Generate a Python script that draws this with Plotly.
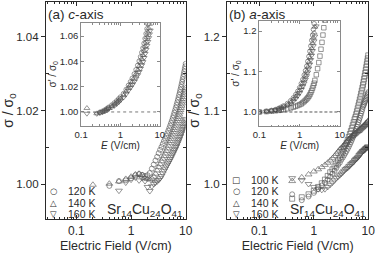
import plotly.graph_objects as go

# ---------------- data ----------------
# (a) c-axis main panel, E in V/cm
E_c = [0.2,0.4,0.6,0.8,1.0,1.2,1.4,1.6,1.8,2.0,2.2,2.4,2.6,2.8,3.0,3.2,3.4,3.6,3.8,4.0,
       4.2,4.4,4.6,4.8,5.0,5.2,5.4,5.6,5.8,6.0,6.2,6.4,6.6,6.8,7.0,7.2,7.4,7.6,7.8,8.0,
       8.2,8.4,8.6,8.8,9.0,9.2,9.4,9.6,9.8,10.0]
c120 = [None,0.9995,1.0008,1.0010,1.0016,1.0024,1.0027,1.0025,1.0022,1.0024,
        1.0030,1.0042,1.0053,1.0064,1.0074,1.0084,1.0093,1.0101,1.0109,1.0117,
        1.0124,1.0131,1.0138,1.0145,1.0152,1.0159,1.0166,1.0173,1.0180,1.0187,
        1.0194,1.0201,1.0208,1.0215,1.0222,1.0229,1.0236,1.0243,1.0250,1.0257,
        1.0264,1.0271,1.0278,1.0285,1.0292,1.0299,1.0306,1.0313,1.0320,1.0327]
c140 = [0.9998,1.0001,1.0007,1.0014,1.0020,1.0026,1.0028,1.0024,1.0018,1.0014,
        1.0012,1.0015,1.0020,1.0028,1.0037,1.0046,1.0054,1.0062,1.0069,1.0076,
        1.0083,1.0090,1.0097,1.0104,1.0111,1.0117,1.0123,1.0129,1.0135,1.0141,
        1.0147,1.0153,1.0159,1.0165,1.0171,1.0177,1.0183,1.0189,1.0195,1.0201,
        1.0207,1.0213,1.0219,1.0225,1.0231,1.0237,1.0243,1.0249,1.0255,1.0261]
c160 = [None,None,0.9982,1.0004,1.0012,1.0018,1.0010,1.0016,1.0008,0.9992,
        0.9981,0.9994,1.0000,1.0004,1.0007,1.0011,1.0016,1.0022,1.0029,1.0036,
        1.0042,1.0048,1.0053,1.0058,1.0063,1.0068,1.0073,1.0078,1.0083,1.0087,
        1.0092,1.0096,1.0101,1.0105,1.0110,1.0114,1.0119,1.0123,1.0128,1.0132,
        1.0137,1.0141,1.0146,1.0150,1.0155,1.0159,1.0164,1.0168,1.0173,1.0177]

# (b) a-axis main panel
E_a = [0.4,0.6,0.8,1.0,1.2,1.4,1.6,1.8,2.0,2.2,2.4,2.6,2.8,3.0,3.2,3.4,3.6,3.8,4.0,4.2,
       4.4,4.6,4.8,5.0,5.2,5.4,5.6,5.8,6.0,6.2,6.4,6.6,6.8,7.0,7.2,7.4,7.6,7.8,8.0,8.2,
       8.4,8.6,8.8,9.0,9.2,9.4,9.6,9.8,10.0]
a100 = [0.980,0.982,0.986,0.991,0.996,1.001,1.006,1.011,1.016,1.020,
        1.024,1.028,1.032,1.036,1.040,1.044,1.048,1.052,1.056,1.060,
        1.064,1.068,1.072,1.076,1.080,1.084,1.088,1.091,1.095,1.099,
        1.103,1.107,1.111,1.115,1.119,1.123,1.127,1.131,1.135,1.139,
        1.143,1.147,1.151,1.155,1.159,1.163,1.167,1.171,1.175]
a120 = [0.986,0.978,0.983,0.988,0.993,0.998,1.002,1.006,1.010,1.014,
        1.018,1.022,1.026,1.029,1.033,1.036,1.039,1.042,1.045,1.048,
        1.051,1.054,1.057,1.060,1.063,1.066,1.069,1.072,1.075,1.078,
        1.081,1.084,1.087,1.090,1.093,1.096,1.099,1.102,1.105,1.107,
        1.109,1.111,1.113,1.115,1.117,1.119,1.121,1.123,1.125]
a140 = [1.004,1.009,1.013,1.017,1.020,1.023,1.026,1.029,1.032,1.035,
        1.038,1.041,1.044,1.047,1.049,1.051,1.053,1.055,1.057,1.059,
        1.061,1.062,1.064,1.065,1.066,1.067,1.068,1.069,1.070,1.071,
        1.072,1.072,1.073,1.074,1.075,1.076,1.077,1.077,1.078,1.079,
        1.080,1.080,1.081,1.082,1.083,1.083,1.084,1.085,1.086]
a160 = [1.008,1.005,1.000,0.996,0.993,0.992,0.993,0.996,0.999,1.002,
        1.005,1.008,1.010,1.012,1.014,1.016,1.018,1.020,1.021,1.022,
        1.024,1.025,1.027,1.028,1.029,1.030,1.032,1.033,1.034,1.035,
        1.036,1.037,1.039,1.040,1.041,1.042,1.043,1.044,1.045,1.045,
        1.046,1.047,1.047,1.048,1.049,1.049,1.050,1.051,1.051]

# inset (a): sigma'/sigma0
E_ci = [0.14,0.25,0.3,0.35,0.4,0.45,0.5,0.6,0.7,0.8,0.9,1.0,1.2,1.4,1.6,1.8,2.0,2.25,2.5,2.75,
        3.0,3.25,3.5,3.75,4.0,4.25,4.5,4.75,5.0,5.25,5.5,5.75]
ci120 = [None,None,0.9998,1.0006,1.0015,1.0026,1.0037,1.0054,1.0071,1.0087,1.0103,1.0118,
         1.0145,1.0178,1.0210,1.0238,1.0266,1.0300,1.0334,1.0368,1.0402,1.0436,1.0470,
         1.0505,1.0542,1.0580,1.0618,1.0656,1.0695,1.0735,1.0775,1.0815]
ci140 = [1.003,0.9988,0.9995,1.0002,1.001,1.002,1.003,1.0045,1.006,1.0075,1.009,1.0105,
         1.013,1.016,1.019,1.0215,1.024,1.027,1.030,1.033,1.036,1.039,1.042,1.045,
         1.0485,1.052,1.0555,1.059,1.0625,1.066,1.0695,1.073]
ci160 = [0.9987,0.9986,0.9992,0.9998,1.0005,1.0014,1.0023,1.0036,1.0049,1.0063,1.0077,1.0092,
         1.0115,1.0142,1.0170,1.0192,1.0214,1.0240,1.0266,1.0292,1.0318,1.0344,1.0370,
         1.0395,1.0428,1.0460,1.0492,1.0524,1.0555,1.0585,1.0615,1.0645]

# inset (b)
E_ai = [0.1,0.15,0.2,0.25,0.3,0.35,0.4,0.5,0.6,0.7,0.8,0.9,1.0,1.1,1.2,1.3,1.4,1.5,1.6,1.7,
        1.8,1.9,2.0,2.1,2.2,2.3,2.4,2.6,2.8,3.0,3.2,3.4,3.6,3.8,4.0,4.2,4.4]
ai100 = [1.000,1.001,1.002,1.003,1.004,1.005,1.006,1.008,1.010,1.012,1.014,1.016,1.018,1.020,
         1.023,1.026,1.029,1.032,1.035,1.039,1.043,1.048,1.053,1.059,1.065,1.071,1.078,1.092,
         1.107,1.122,1.138,1.155,1.172,1.190,1.208,1.227,1.246]
ai120 = [1.000,1.002,1.004,1.006,1.009,1.012,1.015,1.021,1.028,1.035,1.043,1.051,1.060,1.070,
         1.080,1.091,1.102,1.113,1.125,1.137,1.150,1.163,1.177,1.190,1.204,1.218,1.232]
ai140 = [1.000,1.001,1.003,1.005,1.008,1.010,1.013,1.018,1.024,1.031,1.038,1.045,1.053,1.062,
         1.071,1.080,1.090,1.100,1.111,1.122,1.133,1.145,1.157,1.170,1.183,1.196,1.210,1.238]
ai160 = [1.000,1.001,1.002,1.004,1.006,1.009,1.011,1.016,1.021,1.027,1.033,1.040,1.047,1.055,
         1.063,1.071,1.080,1.089,1.098,1.108,1.118,1.129,1.140,1.151,1.163,1.175,1.187,1.212,
         1.238]

temps_c = ["120 K", "140 K", "160 K"]
temps_a = ["100 K", "120 K", "140 K", "160 K"]
x_ticks = [0.1, 1, 10]
x_ticktext = ["0.1", "1", "10"]
x_minor = [0.03,0.04,0.05,0.06,0.07,0.08,0.09,0.2,0.3,0.4,0.5,0.6,0.7,0.8,0.9,
           2,3,4,5,6,7,8,9]

# ---------------- figure ----------------
INK = "#2a2a2a"
MK = "#505050"
FONT = "Liberation Sans, Arial, Helvetica, sans-serif"
W, H = 382, 253

def px_x(p):
    return p / W

def px_y(p):
    return 1 - p / H

fig = go.Figure()

def add(x, y, sym, xa, ya, size):
    n = len(y)
    fig.add_trace(go.Scatter(
        x=x[:n], y=y, mode="markers", xaxis=xa, yaxis=ya,
        marker=dict(symbol=sym, size=size, color=MK, line=dict(width=0.6, color=MK)),
        showlegend=False, hoverinfo="skip"))

# main (a)
add(E_c, c160, "triangle-down-open", "x", "y", 6)
add(E_c, c140, "triangle-up-open", "x", "y", 6)
add(E_c, c120, "circle-open", "x", "y", 5)
# main (b)
add(E_a, a160, "triangle-down-open", "x2", "y2", 6)
add(E_a, a140, "triangle-up-open", "x2", "y2", 6)
add(E_a, a120, "circle-open", "x2", "y2", 5)
add(E_a, a100, "square-open", "x2", "y2", 5)
# insets
add(E_ci, ci160, "triangle-down-open", "x3", "y3", 5.2)
add(E_ci, ci140, "triangle-up-open", "x3", "y3", 5.2)
add(E_ci, ci120, "circle-open", "x3", "y3", 4.5)
add(E_ai, ai100, "square-open", "x4", "y4", 4.5)
add(E_ai, ai160, "triangle-down-open", "x4", "y4", 5)
add(E_ai, ai140, "triangle-up-open", "x4", "y4", 5)
add(E_ai, ai120, "circle-open", "x4", "y4", 4.5)

def main_x(domain, rng, anchor):
    return dict(domain=domain, anchor=anchor, type="log", range=rng,
                tickmode="array", tickvals=x_ticks, ticktext=x_ticktext,
                ticks="inside", ticklen=4, tickwidth=1, tickcolor=INK,
                showline=True, linecolor=INK, linewidth=1.2, mirror="ticks",
                showgrid=False, zeroline=False,
                tickfont=dict(size=12, color=INK),
                minor=dict(tickmode="array", tickvals=x_minor, ticks="inside",
                           ticklen=2, tickwidth=1, tickcolor=INK, showgrid=False),
                title=dict(text="Electric Field (V/cm)", font=dict(size=12.5, color=INK),
                           standoff=4))

def main_y(domain, rng, tv, fmt, minor_vals, anchor):
    return dict(domain=domain, anchor=anchor, range=rng,
                tickmode="array", tickvals=tv, tickformat=fmt,
                ticks="outside", ticklen=4, tickwidth=1, tickcolor=INK,
                showline=True, linecolor=INK, linewidth=1.2, mirror="ticks",
                showgrid=False, zeroline=False,
                tickfont=dict(size=11.5, color=INK),
                minor=dict(tickmode="array", tickvals=minor_vals, ticks="inside",
                           ticklen=3, tickwidth=1, tickcolor=INK, showgrid=False),
                title=dict(text="σ / σ<sub>0</sub>", font=dict(size=14, color=INK),
                           standoff=0))

GRAY = "#8a8a8a"

def inset_x(domain, anchor):
    return dict(domain=domain, anchor=anchor, type="log", range=[-1, 1],
                tickmode="array", tickvals=x_ticks, ticktext=x_ticktext,
                ticks="inside", ticklen=2.5, tickwidth=1, tickcolor=GRAY,
                showline=True, linecolor=GRAY, linewidth=1, mirror="ticks",
                showgrid=False, zeroline=False,
                tickfont=dict(size=9.5, color=INK),
                minor=dict(tickmode="array", tickvals=x_minor, ticks="inside",
                           ticklen=1.5, tickwidth=0.8, tickcolor=GRAY, showgrid=False),
                title=dict(text="<i>E</i> (V/cm)", font=dict(size=10, color=INK),
                           standoff=1))

def inset_y(domain, rng, tv, fmt, anchor):
    return dict(domain=domain, anchor=anchor, range=rng,
                tickmode="array", tickvals=tv, tickformat=fmt,
                ticks="inside", ticklen=2.5, tickwidth=1, tickcolor=GRAY,
                showline=True, linecolor=GRAY, linewidth=1, mirror="ticks",
                showgrid=False, zeroline=False,
                tickfont=dict(size=9.5, color=INK),
                title=dict(text="σ' / σ<sub>0</sub>", font=dict(size=10, color=INK),
                           standoff=1))

fig.update_layout(
    width=W, height=H, margin=dict(l=0, r=0, t=0, b=0),
    paper_bgcolor="white", plot_bgcolor="white", showlegend=False,
    font=dict(family=FONT, size=11, color=INK),
    xaxis=main_x([px_x(40.5), px_x(185.5)], [-1.557, 1.0], "y"),
    yaxis=main_y([px_y(219), px_y(2)], [0.9905, 1.0495], [1.00, 1.02, 1.04], ".2f",
                 [1.01, 1.03], "x"),
    xaxis2=main_x([px_x(228.5), px_x(375)], [-1.593, 1.0], "y2"),
    yaxis2=main_y([px_y(219), px_y(2)], [0.9524, 1.2476], [1.0, 1.1, 1.2], ".1f",
                  [1.05, 1.15], "x2"),
    xaxis3=inset_x([px_x(77), px_x(158.5)], "y3"),
    yaxis3=inset_y([px_y(125.5), px_y(23)], [0.9893, 1.0703], [1.00, 1.02, 1.04, 1.06],
                   ".2f", "x3"),
    xaxis4=inset_x([px_x(262), px_x(345.5)], "y4"),
    yaxis4=inset_y([px_y(126), px_y(21)], [0.9654, 1.2247], [1.0, 1.1, 1.2], ".1f", "x4"),
)

# reference lines at 1 in insets
fig.add_shape(type="line", xref="x3 domain", yref="y3", x0=0, x1=1, y0=1.0, y1=1.0,
              line=dict(color="#777", width=1, dash="dot"))
fig.add_shape(type="line", xref="x4 domain", yref="y4", x0=0, x1=1, y0=1.0, y1=1.0,
              line=dict(color=INK, width=0.8, dash="3px,2px"))

ann = []
ann.append(dict(text="(a) <i>c</i>-axis", x=px_x(40), y=px_y(14), xref="paper", yref="paper",
                xanchor="left", yanchor="middle", showarrow=False,
                font=dict(size=13.5, color=INK)))
ann.append(dict(text="(b) <i>a</i>-axis", x=px_x(228), y=px_y(14), xref="paper", yref="paper",
                xanchor="left", yanchor="middle", showarrow=False,
                font=dict(size=13.5, color=INK)))
formula = "Sr<sub>14</sub>Cu<sub>24</sub>O<sub>41</sub>"
ann.append(dict(text=formula, x=px_x(185), y=px_y(210), xref="paper", yref="paper",
                xanchor="right", yanchor="middle", showarrow=False,
                font=dict(size=14, color=INK)))
ann.append(dict(text=formula, x=px_x(375), y=px_y(210), xref="paper", yref="paper",
                xanchor="right", yanchor="middle", showarrow=False,
                font=dict(size=14, color=INK)))

sym_c = ["○", "△", "▽"]
rows_c = [191, 202.5, 214]
for s, t, r in zip(sym_c, temps_c, rows_c):
    ann.append(dict(text=s, x=px_x(48), y=px_y(r), xref="paper", yref="paper",
                    xanchor="center", yanchor="middle", showarrow=False,
                    font=dict(size=8.5, color=INK, family="DejaVu Sans")))
    ann.append(dict(text=t, x=px_x(61), y=px_y(r), xref="paper", yref="paper",
                    xanchor="left", yanchor="middle", showarrow=False,
                    font=dict(size=10.5, color=INK)))
sym_a = ["□", "○", "△", "▽"]
rows_a = [179.5, 191, 202.5, 214]
for s, t, r in zip(sym_a, temps_a, rows_a):
    ann.append(dict(text=s, x=px_x(238), y=px_y(r), xref="paper", yref="paper",
                    xanchor="center", yanchor="middle", showarrow=False,
                    font=dict(size=8.5, color=INK, family="DejaVu Sans")))
    ann.append(dict(text=t, x=px_x(251), y=px_y(r), xref="paper", yref="paper",
                    xanchor="left", yanchor="middle", showarrow=False,
                    font=dict(size=10.5, color=INK)))
fig.update_layout(annotations=ann)

fig.write_html("out.html", config={"displayModeBar": False, "responsive": False},
               post_script="document.body.style.margin='0px';document.body.style.padding='0px';")
